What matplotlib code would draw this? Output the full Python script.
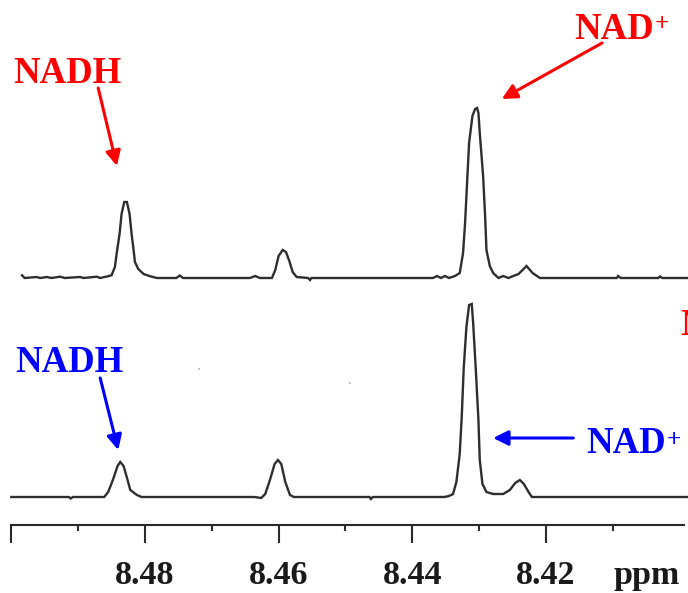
import matplotlib
matplotlib.use("Agg")
import matplotlib.pyplot as plt

# 1H NMR spectra (ppm vs. intensity, arbitrary units)
upper_ppm = [8.4984, 8.4980, 8.4962, 8.4957, 8.4947, 8.4940, 8.4927, 8.4920, 8.4897, 8.4892,
             8.4872, 8.4867, 8.4857, 8.4850, 8.4845, 8.4842, 8.4838, 8.4835, 8.4831, 8.4827,
             8.4823, 8.4820, 8.4817, 8.4815, 8.4810, 8.4802, 8.4792, 8.4782, 8.4753, 8.4748,
             8.4743, 8.4643, 8.4635, 8.4628, 8.4610, 8.4605, 8.4600, 8.4594, 8.4589, 8.4584,
             8.4579, 8.4573, 8.4556, 8.4553, 8.4551, 8.4493, 8.4369, 8.4363, 8.4357, 8.4351,
             8.4345, 8.4336, 8.4329, 8.4324, 8.4321, 8.4318, 8.4315, 8.4310, 8.4306, 8.4303,
             8.4301, 8.4299, 8.4294, 8.4291, 8.4289, 8.4284, 8.4279, 8.4271, 8.4264, 8.4256,
             8.4249, 8.4241, 8.4229, 8.4220, 8.4209, 8.4094, 8.4092, 8.4088, 8.4032, 8.4029,
             8.4026, 8.3987]
upper_int = [2.7, 0, 1, 0, 1, 0, 1.3, 0, 1, 0,
             1.3, 0, 1.5, 2.7, 11, 26, 44, 64, 76, 76,
             64, 44, 28, 16, 9, 4, 1.7, 0, 0, 2.5,
             0, 0, 2, 0, 0, 8, 22, 28, 26, 17,
             6, 1, 0, -2, 0, 0, 0, 2, 0, 2,
             0, 2, 5, 25, 55, 95, 135, 162, 169, 170,
             165, 145, 102, 62, 28, 12, 5, 0, 2, 0,
             2, 4, 12, 5, 0, 0, 2, 0, 0, 1.5,
             0, 0]

lower_ppm = [8.5000, 8.4914, 8.4911, 8.4908, 8.4861, 8.4855, 8.4848, 8.4841, 8.4837, 8.4832,
             8.4826, 8.4822, 8.4812, 8.4805, 8.4636, 8.4626, 8.4620, 8.4613, 8.4606, 8.4601,
             8.4596, 8.4590, 8.4583, 8.4577, 8.4464, 8.4462, 8.4459, 8.4352, 8.4345, 8.4339,
             8.4334, 8.4329, 8.4326, 8.4323, 8.4319, 8.4315, 8.4311, 8.4309, 8.4305, 8.4301,
             8.4299, 8.4295, 8.4289, 8.4279, 8.4264, 8.4254, 8.4246, 8.4239, 8.4233, 8.4226,
             8.4221, 8.4194, 8.3987]
lower_int = [0, 0, -1.5, 0, 0, 5, 17, 31, 35, 31,
             17, 7, 2, 0, 0, -1, 3, 17, 33, 37,
             33, 15, 2, 0, 0, -2, 0, 0, 1, 3,
             15, 43, 80, 129, 170, 192, 193, 175, 128, 77,
             37, 13, 5, 3, 3, 7, 14, 17, 13, 5,
             0, 0, 0]

major_ticks = [8.50, 8.48, 8.46, 8.44, 8.42]
major_labels = ["", "8.48", "8.46", "8.44", "8.42"]
minor_ticks = [8.49, 8.47, 8.45, 8.43, 8.41]
axis_unit = "ppm"

# stray specks between the two traces
speck_ppm = [8.4719, 8.4493]
speck_int = [156, 142]

UPPER_BASE = 247
LOWER_BASE = 28

SERIF = ["Liberation Serif", "DejaVu Serif"]
RED = "#ff0000"
BLUE = "#0000ff"
LINE = "#2e2e2e"

fig = plt.figure(figsize=(6.88, 5.93), dpi=100)
W, H = 688, 593
ax = fig.add_axes([11.3 / W, 68 / H, (684 - 11.3) / W, 525 / H])
ax.set_xlim(8.50, 8.39934)
ax.set_ylim(0, 525)

ax.plot(upper_ppm, [v + UPPER_BASE for v in upper_int], color=LINE, lw=1.7,
        solid_joinstyle="miter", clip_on=False)
ax.plot(lower_ppm, [v + LOWER_BASE for v in lower_int], color=LINE, lw=1.7,
        solid_joinstyle="miter", clip_on=False)
ax.scatter(speck_ppm, speck_int, s=3, color="#c8c8c8", marker="s", lw=0)

for side in ("top", "left", "right"):
    ax.spines[side].set_visible(False)
ax.spines["bottom"].set_color("#2a2a2a")
ax.spines["bottom"].set_linewidth(1.5)
ax.set_yticks([])
ax.set_xticks(major_ticks)
ax.set_xticklabels(major_labels)
ax.set_xticks(minor_ticks, minor=True)
ax.tick_params(axis="x", which="major", direction="out", length=13, width=1.5,
               color="#2a2a2a", pad=12)
ax.tick_params(axis="x", which="minor", direction="out", length=4.5, width=1.5,
               color="#2a2a2a")
for lab in ax.get_xticklabels():
    lab.set_fontfamily(SERIF)
    lab.set_fontweight("bold")
    lab.set_fontsize(24.5)
    lab.set_color("#1a1a1a")

ax.annotate(axis_unit, xy=(8.4049, 0), xycoords=ax.get_xaxis_transform(),
            xytext=(0, -25.2), textcoords="offset points", ha="center", va="top",
            family=SERIF, weight="bold", fontsize=24.5, color="#1a1a1a",
            annotation_clip=False)

arrow_kw = dict(arrowstyle="-|>,head_length=0.9,head_width=0.45", lw=2.2,
                shrinkA=0, shrinkB=0)
label_kw = dict(family=SERIF, weight="bold", fontsize=26.5, va="baseline", ha="left")
plus_kw = dict(family=SERIF, weight="bold", fontsize=18, va="baseline", ha="left")

# upper spectrum labels (red)
ax.text(8.4997, 442, "NADH", color=RED, **label_kw)
ax.annotate("", xy=(8.4842, 359), xytext=(8.4870, 437),
            arrowprops=dict(color=RED, **arrow_kw))
ax.text(8.4157, 486, "NAD", color=RED, **label_kw)
ax.text(8.4038, 493.5, "+", color=RED, **plus_kw)
ax.annotate("", xy=(8.4266, 426), xytext=(8.4116, 482),
            arrowprops=dict(color=RED, **arrow_kw))
ax.text(8.3999, 190, "NADH", color=RED, clip_on=False, **label_kw)

# lower spectrum labels (blue)
ax.text(8.4139, 72, "NAD", color=BLUE, **label_kw)
ax.text(8.4019, 78.5, "+", color=BLUE, **plus_kw)
ax.annotate("", xy=(8.4279, 87), xytext=(8.4159, 87),
            arrowprops=dict(color=BLUE, **arrow_kw))
ax.text(8.4994, 153, "NADH", color=BLUE, **label_kw)
ax.annotate("", xy=(8.4840, 75), xytext=(8.4867, 147),
            arrowprops=dict(color=BLUE, **arrow_kw))

fig.savefig("out.png", dpi=100)
